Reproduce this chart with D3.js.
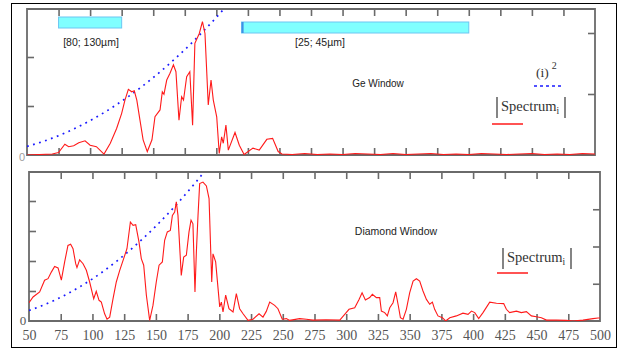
<!DOCTYPE html>
<html>
<head>
<meta charset="utf-8">
<script src="https://cdn.jsdelivr.net/npm/d3@7"></script>
<style>
  body { margin: 0; background: #fff; }
  svg { display: block; }
</style>
</head>
<body>
<div id="chart"></div>
<script>
// x ticks shared by both panels
const xTicks = [50, 75, 100, 125, 150, 175, 200, 225, 250, 275, 300, 325, 350, 375, 400, 425, 450, 475, 500];

// |Spectrum_i| through the Ge window, [i, amplitude]
const geSpectrum = [
  [50, 0], [60, 0.01], [70, 0.02], [75, 0.05], [80, 0.22], [83, 0.17], [87, 0.19], [91, 0.25],
  [96, 0.29], [100, 0.2], [105, 0.17], [111, 0.02], [116, 0.24], [121, 0.54], [125, 0.85],
  [127.6, 1.12], [130.3, 1.34], [133, 1.29], [135, 1.31], [137, 1.12], [139.5, 0.71], [142, 0.31],
  [145.3, 0.07], [149, 0.31], [151.4, 0.78], [155.4, 0.92], [157.2, 1.29], [158.5, 1.24],
  [160.7, 1.53], [163.3, 1.67], [166, 1.84], [168, 1.7], [170.4, 0.71], [172.5, 1.19], [174, 1.12],
  [176.5, 1.6], [179, 1.7], [181.2, 0.61], [183, 2.28], [186.5, 2.48], [189, 2.72], [191, 2.48],
  [193.6, 1.02], [195.8, 1.53], [197.6, 1.12], [200.3, 0.78], [202.3, 0.03], [204.2, 0.37],
  [205.5, 0.24], [207.6, 0.61], [209.5, 0.1], [214.8, 0.46], [218.2, 0.2], [222, 0.01], [229, 0.14],
  [234, 0.1], [240, 0.32], [244.6, 0.34], [249, 0.07], [252, 0.02], [260, 0.01], [270, 0.03],
  [280, 0.01], [290, 0.02], [300, 0.01], [310, 0.03], [320, 0.02], [330, 0.01], [340, 0.03],
  [350, 0.01], [360, 0.02], [370, 0.03], [380, 0.01], [390, 0.02], [400, 0.01], [410, 0.03],
  [420, 0.02], [430, 0.01], [440, 0.02], [450, 0.03], [460, 0.01], [470, 0.02], [480, 0.01],
  [490, 0.03], [500, 0.02]
];

// |Spectrum_i| through the diamond window, [i, amplitude]
const diamondSpectrum = [
  [50, 0.61], [53.2, 0.8], [58.4, 0.97], [62.3, 1.36], [65, 1.41], [67.6, 1.63], [70.2, 1.82],
  [72.9, 1.77], [75.5, 1.36], [78.1, 1.97], [80.7, 2.52], [82.8, 2.56], [84.7, 2.41], [86.8, 1.91],
  [87.8, 1.78], [89.9, 2.04], [92.6, 1.91], [95.2, 1.69], [97.8, 1.3], [101, 0.74], [103, 0.99],
  [105.2, 0.69], [107, 0.63], [109.6, 0.24], [111.5, 0.06], [113.6, 0.13], [116.2, 0.74],
  [118.8, 1.3], [121.5, 1.69], [124.6, 2.08], [127.2, 2.41], [129.9, 3.3], [132, 3.19],
  [134.1, 3.21], [136.7, 2.63], [138.5, 2.08], [140.4, 1.86], [142.5, 0.86], [145.1, 0.02],
  [147.7, 0.52], [150.3, 1.3], [152.5, 1.86], [155.1, 1.97], [156.9, 2.69], [159, 2.97],
  [161.4, 3.02], [163, 3.52], [164.8, 3.63], [166.1, 3.97], [167.4, 3.52], [170, 1.52],
  [171.9, 2.13], [174, 2.19], [176.1, 2.97], [177.7, 3.36], [179.2, 3.24], [180.8, 0.97],
  [181.9, 2.3], [183.2, 3.52], [184.5, 4.58], [187.1, 4.63], [189.8, 4.5], [191.9, 4.08],
  [194, 1.3], [195, 2.24], [197.1, 1.97], [199, 1.08], [200.3, 0.47], [201.6, 0.63], [202.9, 0.3],
  [205, 0.86], [207.6, 0.41], [210.8, 0.3], [213.4, 0.91], [216, 0.41], [218.7, 0.24],
  [222.6, 0.02], [226.5, 0.06], [231.3, 0.24], [234.4, 0.13], [237, 0.32], [239.7, 0.63],
  [243.6, 0.52], [246.2, 0.41], [249.6, 0.06], [252.8, 0.08], [255.4, 0.02], [263.3, 0.08],
  [268.6, 0.06], [273.8, 0.03], [284, 0.04], [294.9, 0.03], [298.8, 0.22], [302.2, 0.39],
  [306.7, 0.44], [310.1, 0.72], [312.5, 0.94], [315.1, 0.7], [318.5, 0.78], [320.6, 0.89],
  [323.8, 0.78], [326.4, 0.78], [327.7, 0.33], [330.3, 0.28], [332.4, 0.17], [334.3, 0.44],
  [336.9, 0.61], [339, 0.97], [341.1, 0.5], [342.7, 0.11], [344.8, 0.06], [347.4, 0.39],
  [350, 0.94], [352.7, 1.33], [355.3, 1.41], [357.9, 1.33], [360.5, 1], [363.2, 0.72],
  [365.8, 0.56], [367.9, 0.63], [369.7, 0.39], [372.3, 0.17], [375.8, 0.11], [378.4, 0],
  [381.6, 0.11], [386.8, 0.17], [392, 0.26], [396, 0.22], [398.7, 0.33], [401.3, 0.28],
  [404.4, 0.08], [407.8, 0.28], [413.1, 0.63], [418.4, 0.59], [424.1, 0.58], [426.2, 0.39],
  [428.8, 0.28], [434.1, 0.33], [438, 0.28], [442, 0.31], [445.9, 0.17], [449.9, 0.14],
  [453.8, 0.11], [457.8, 0.03], [465.6, 0.03], [473.5, 0.02], [478.7, 0], [486.6, 0.03],
  [494.5, 0.08], [498.5, 0.1], [500, 0.1]
];

// (i)^2 reference curve
const iValues  = [50, 60, 70, 80, 90, 100, 110, 120, 130, 140, 150, 160, 170, 180, 190, 200, 210, 220];
const iSquared = [2500, 3600, 4900, 6400, 8100, 10000, 12100, 14400, 16900, 19600, 22500, 25600, 28900, 32400, 36100, 40000, 44100, 48400];

// wavelength windows shown above the Ge spectrum
const windowRanges = [[75, 125], [220, 400]];
const windowLabels = ['[80; 130\u00b5m]', '[25; 45\u00b5m]'];

const W = 617, H = 352;
const svg = d3.select('#chart').append('svg')
  .attr('width', W)
  .attr('height', H);

// outer frame
svg.append('rect')
  .attr('x', 11.5).attr('y', 3.5)
  .attr('width', 605).attr('height', 344)
  .attr('fill', 'none')
  .attr('stroke', '#000')
  .attr('stroke-width', 1);

const curveData = iValues.map((v, k) => [v, iSquared[k]]);
const axisColor = '#6a6a6a';
const sans = 'Arial, "Liberation Sans", sans-serif';
const serif = '"Times New Roman", "Liberation Serif", serif';

function drawPanel(p) {
  const x = d3.scaleLinear().domain([50, 500]).range([p.left, p.right]);
  const yL = d3.scaleLinear().domain([0, p.leftMax]).range([p.bottom, p.top]);
  const yR = d3.scaleLinear().domain([0, p.rightMax]).range([p.bottom, p.top]);
  const yC = d3.scaleLinear().domain([0, p.curveMax]).range([p.bottom, p.top]);

  const g = svg.append('g');

  g.append('clipPath').attr('id', p.id)
    .append('rect')
    .attr('x', p.left).attr('y', p.top)
    .attr('width', p.right - p.left).attr('height', p.bottom - p.top);

  // ticks, all pointing into the plot
  const tickStyle = sel => {
    sel.select('.domain').remove();
    sel.selectAll('line').attr('stroke', axisColor).attr('stroke-width', 1.6);
  };
  g.append('g').attr('transform', `translate(0,${p.top})`)
    .call(d3.axisBottom(x).tickValues(xTicks.slice(1, -1)).tickSize(7).tickFormat(''))
    .call(tickStyle);
  g.append('g').attr('transform', `translate(0,${p.bottom})`)
    .call(d3.axisTop(x).tickValues(xTicks.slice(1, -1)).tickSize(7).tickFormat(''))
    .call(tickStyle);
  g.append('g').attr('transform', `translate(${p.left},0)`)
    .call(d3.axisRight(yL).tickValues(p.leftTicks).tickSize(7).tickFormat(''))
    .call(tickStyle);
  g.append('g').attr('transform', `translate(${p.right},0)`)
    .call(d3.axisLeft(yR).tickValues(p.rightTicks).tickSize(7).tickFormat(''))
    .call(tickStyle);

  // plot frame
  g.append('path')
    .attr('d', `M${p.left},${p.top}H${p.right}V${p.bottom}H${p.left}Z`)
    .attr('fill', 'none')
    .attr('stroke', axisColor)
    .attr('stroke-width', 1.8);

  const plot = g.append('g').attr('clip-path', `url(#${p.id})`);

  plot.append('path')
    .datum(curveData)
    .attr('d', d3.line().x(d => x(d[0])).y(d => yC(d[1])).curve(d3.curveMonotoneX))
    .attr('fill', 'none')
    .attr('stroke', '#1a1aff')
    .attr('stroke-width', 1.7)
    .attr('stroke-dasharray', '1.8,4.5');

  plot.append('path')
    .datum(p.data)
    .attr('d', d3.line().x(d => x(d[0])).y(d => yL(d[1])))
    .attr('fill', 'none')
    .attr('stroke', '#ff1a1a')
    .attr('stroke-width', 1.1);

  return { g, x, yL };
}

// Ge window panel
const gePanel = drawPanel({
  id: 'clipGe', left: 27, right: 595, top: 9, bottom: 155,
  leftMax: 146 / 49, leftTicks: [1, 2],
  rightMax: 146 / 61, rightTicks: [1, 2],
  curveMax: 206 * 206,
  data: geSpectrum
});

// Diamond window panel
const diaPanel = drawPanel({
  id: 'clipDia', left: 29, right: 600, top: 172, bottom: 321,
  leftMax: 149 / 30, leftTicks: [1, 2, 3, 4],
  rightMax: 4, rightTicks: [1, 2, 3],
  curveMax: 188 * 188,
  data: diamondSpectrum
});

// window bars and their labels
const barY = [17, 22];
gePanel.g.selectAll('rect.win')
  .data(windowRanges)
  .enter().append('rect')
  .attr('class', 'win')
  .attr('x', d => gePanel.x(d[0]))
  .attr('y', (d, k) => barY[k])
  .attr('width', d => gePanel.x(d[1]) - gePanel.x(d[0]))
  .attr('height', 11)
  .attr('fill', '#80ffff')
  .attr('stroke', '#6cc6f2')
  .attr('stroke-width', 1);
gePanel.g.append('rect')
  .attr('x', gePanel.x(windowRanges[1][0]))
  .attr('y', barY[1])
  .attr('width', 2).attr('height', 11)
  .attr('fill', '#3f8fe6');

const labelX = [91, 320];
gePanel.g.selectAll('text.win')
  .data(windowLabels)
  .enter().append('text')
  .attr('class', 'win')
  .attr('x', (d, k) => labelX[k])
  .attr('y', 46)
  .attr('text-anchor', 'middle')
  .style('font-family', sans)
  .style('font-size', '10.5px')
  .style('fill', '#222')
  .text(d => d);

gePanel.g.append('text')
  .attr('x', 378).attr('y', 87)
  .attr('text-anchor', 'middle')
  .style('font-family', sans).style('font-size', '10px').style('fill', '#222')
  .text('Ge Window');

diaPanel.g.append('text')
  .attr('x', 396).attr('y', 235)
  .attr('text-anchor', 'middle')
  .style('font-family', sans).style('font-size', '10.5px').style('fill', '#222')
  .text('Diamond Window');

// "0" labels
gePanel.g.append('text')
  .attr('x', 22).attr('y', 161)
  .attr('text-anchor', 'middle')
  .style('font-family', sans).style('font-size', '11px').style('fill', '#a0a0a0')
  .text('0');
diaPanel.g.append('text')
  .attr('x', 23).attr('y', 325)
  .attr('text-anchor', 'middle')
  .style('font-family', serif).style('font-size', '13px').style('fill', '#555')
  .text('0');

// x tick labels under the diamond panel
diaPanel.g.append('g')
  .attr('transform', 'translate(0,321)')
  .call(d3.axisBottom(diaPanel.x).tickValues(xTicks).tickSize(0).tickPadding(9).tickFormat(d3.format('d')))
  .call(sel => {
    sel.select('.domain').remove();
    sel.selectAll('text')
      .style('font-family', serif)
      .style('font-size', '14px')
      .style('fill', '#555');
  });

// legends
function spectrumLegend(g, x0, y0, lineX, lineY) {
  g.append('line')
    .attr('x1', x0).attr('x2', x0)
    .attr('y1', y0 - 14).attr('y2', y0 + 7)
    .attr('stroke', '#333').attr('stroke-width', 1.2);
  const t = g.append('text')
    .attr('x', x0 + 4).attr('y', y0)
    .style('font-family', serif).style('font-size', '14.5px').style('fill', '#333');
  t.append('tspan').text('Spectrum');
  t.append('tspan').attr('dy', 3).style('font-size', '9.5px').text('i');
  g.append('line')
    .attr('x1', x0 + 68).attr('x2', x0 + 68)
    .attr('y1', y0 - 14).attr('y2', y0 + 7)
    .attr('stroke', '#333').attr('stroke-width', 1.2);
  g.append('line')
    .attr('x1', lineX).attr('x2', lineX + 31)
    .attr('y1', lineY).attr('y2', lineY)
    .attr('stroke', '#ff1a1a').attr('stroke-width', 1.5);
}

const sq = gePanel.g.append('text')
  .attr('x', 536).attr('y', 77)
  .style('font-family', serif).style('font-size', '13.5px').style('fill', '#333');
sq.append('tspan').text('(i)');
sq.append('tspan').attr('dx', 3).attr('dy', -8).style('font-size', '10px').text('2');
gePanel.g.append('line')
  .attr('x1', 534).attr('x2', 564)
  .attr('y1', 86).attr('y2', 86)
  .attr('stroke', '#1a1aff').attr('stroke-width', 1.5)
  .attr('stroke-dasharray', '3,3');

spectrumLegend(gePanel.g, 497, 111, 492, 124);
spectrumLegend(diaPanel.g, 503, 262, 497, 273);
</script>
</body>
</html>
